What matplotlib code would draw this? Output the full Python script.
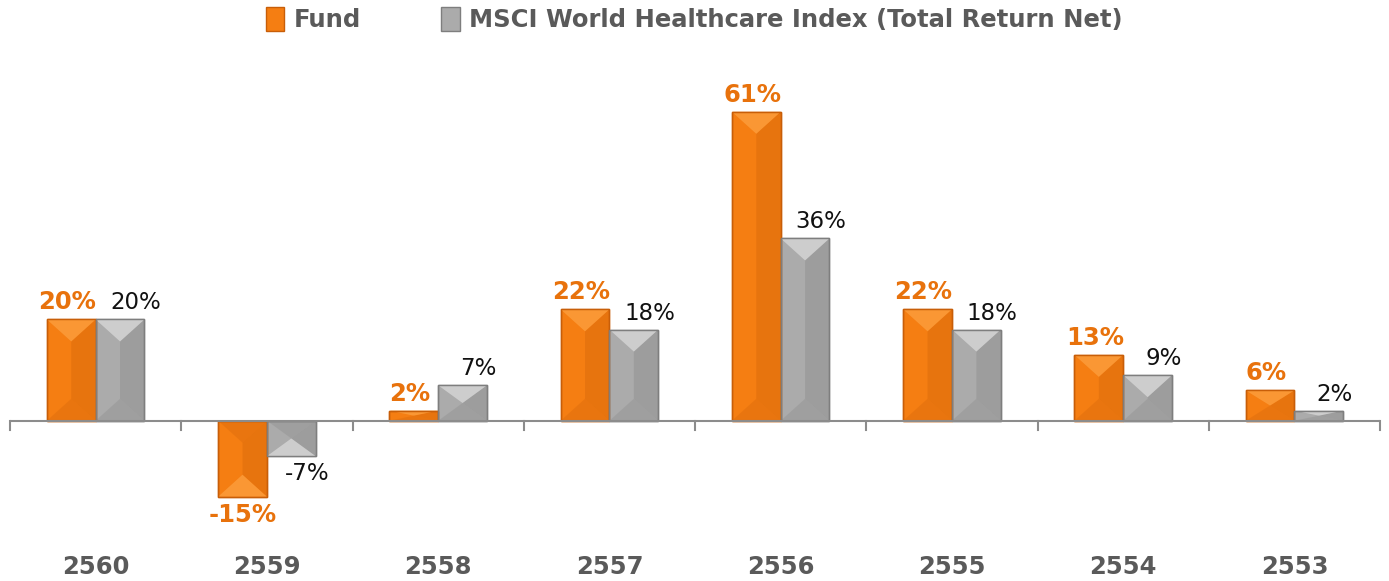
import matplotlib
matplotlib.use("Agg")
import matplotlib.pyplot as plt
from matplotlib.patches import Polygon, Patch
import numpy as np

years = ["2560", "2559", "2558", "2557", "2556", "2555", "2554", "2553"]
fund = [20, -15, 2, 22, 61, 22, 13, 6]
index = [20, -7, 7, 18, 36, 18, 9, 2]
series_names = ["Fund", "MSCI World Healthcare Index (Total Return Net)"]

ORANGE = "#F57E12"
ORANGE_DARK = "#C85E08"
ORANGE_LIGHT = "#FCA040"
GRAY = "#ABABAB"
GRAY_DARK = "#7E7E7E"
GRAY_LIGHT = "#D9D9D9"
LABEL_ORANGE = "#E8720C"
TEXT_GRAY = "#5A5A5A"
FONT = "DejaVu Sans"

fig = plt.figure(figsize=(13.89, 5.81), dpi=100)
ax = fig.add_axes([0.0072, 0.1015, 0.9864, 0.802])

x = np.arange(len(years))
w = 0.285
b1 = ax.bar(x - w / 2, fund, w, color=ORANGE, edgecolor=ORANGE_DARK, linewidth=1, zorder=2)
b2 = ax.bar(x + w / 2, index, w, color=GRAY, edgecolor=GRAY_DARK, linewidth=1, zorder=2)

ax.set_xlim(-0.5, len(years) - 0.5)
ax.set_ylim(-20, 72)

fig.canvas.draw()
px_x = (ax.get_xlim()[1] - ax.get_xlim()[0]) / ax.get_window_extent().width
px_y = (ax.get_ylim()[1] - ax.get_ylim()[0]) / ax.get_window_extent().height


def bevel(bars, light, dark):
    for p in bars:
        x0 = p.get_x()
        x1 = x0 + p.get_width()
        h = p.get_height()
        xm = (x0 + x1) / 2
        sgn = 1 if h >= 0 else -1
        top = h
        depth = min(abs(h) / 2, 22 * px_y)
        ax.add_patch(Polygon([(xm, sgn * depth), (x1, 0), (x1, top), (xm, top - sgn * depth)],
                             closed=True, facecolor=dark, alpha=0.3, edgecolor="none", zorder=3))
        ax.add_patch(Polygon([(x0, top), (x1, top), (xm, top - sgn * depth)],
                             closed=True, facecolor=light, alpha=0.75, edgecolor="none", zorder=3))
        ax.add_patch(Polygon([(x0, 0), (x1, 0), (xm, sgn * depth)],
                             closed=True, facecolor=dark, alpha=0.25, edgecolor="none", zorder=3))
        ax.add_patch(plt.Rectangle((x0, min(0, h)), x1 - x0, abs(h), fill=False,
                                   edgecolor=dark, linewidth=1, zorder=4))


bevel(b1, ORANGE_LIGHT, ORANGE_DARK)
bevel(b2, GRAY_LIGHT, GRAY_DARK)

ax.axhline(0, color="#8C8C8C", linewidth=1.5, zorder=5)
for sp in ax.spines.values():
    sp.set_visible(False)
ax.set_yticks([])
ax.set_xticks([])
for t in np.arange(-0.5, len(years), 1.0):
    ax.plot([t, t], [0, -9 * px_y], color="#8C8C8C", linewidth=1.5, zorder=5, clip_on=False)

for xi, yr in zip(x, years):
    ax.text(xi, -28.8, yr, ha="center", va="center", fontsize=17.5, fontweight="bold",
            color=TEXT_GRAY, family=FONT)

for p, v in zip(b1, fund):
    cx = p.get_x() + p.get_width() / 2
    if v >= 0:
        ax.text(cx - 4 * px_x, v + 5 * px_y, f"{v}%", ha="center", va="bottom", fontsize=17.5,
                fontweight="bold", color=LABEL_ORANGE, family=FONT)
    else:
        ax.text(cx, v - 6 * px_y, f"{v}%", ha="center", va="top", fontsize=17.5,
                fontweight="bold", color=LABEL_ORANGE, family=FONT)
for p, v in zip(b2, index):
    cx = p.get_x() + p.get_width() / 2
    if v >= 0:
        ax.text(cx + 16 * px_x, v + 5 * px_y, f"{v}%", ha="center", va="bottom", fontsize=16.5,
                color="#111111", family=FONT)
    else:
        ax.text(cx + 16 * px_x, v - 6 * px_y, f"{v}%", ha="center", va="top", fontsize=16.5,
                color="#111111", family=FONT)

handles = [Patch(facecolor=ORANGE, edgecolor=ORANGE_DARK), Patch(facecolor=GRAY, edgecolor=GRAY_DARK)]
leg = fig.legend(handles, series_names, loc="upper center", bbox_to_anchor=(0.5, 1.025), ncol=2,
                 frameon=False, handlelength=0.75, handleheight=1.1, handletextpad=0.4, columnspacing=3.3,
                 prop={"family": FONT, "weight": "bold", "size": 17.5})
for t in leg.get_texts():
    t.set_color(TEXT_GRAY)

fig.savefig("out.png", dpi=100)
